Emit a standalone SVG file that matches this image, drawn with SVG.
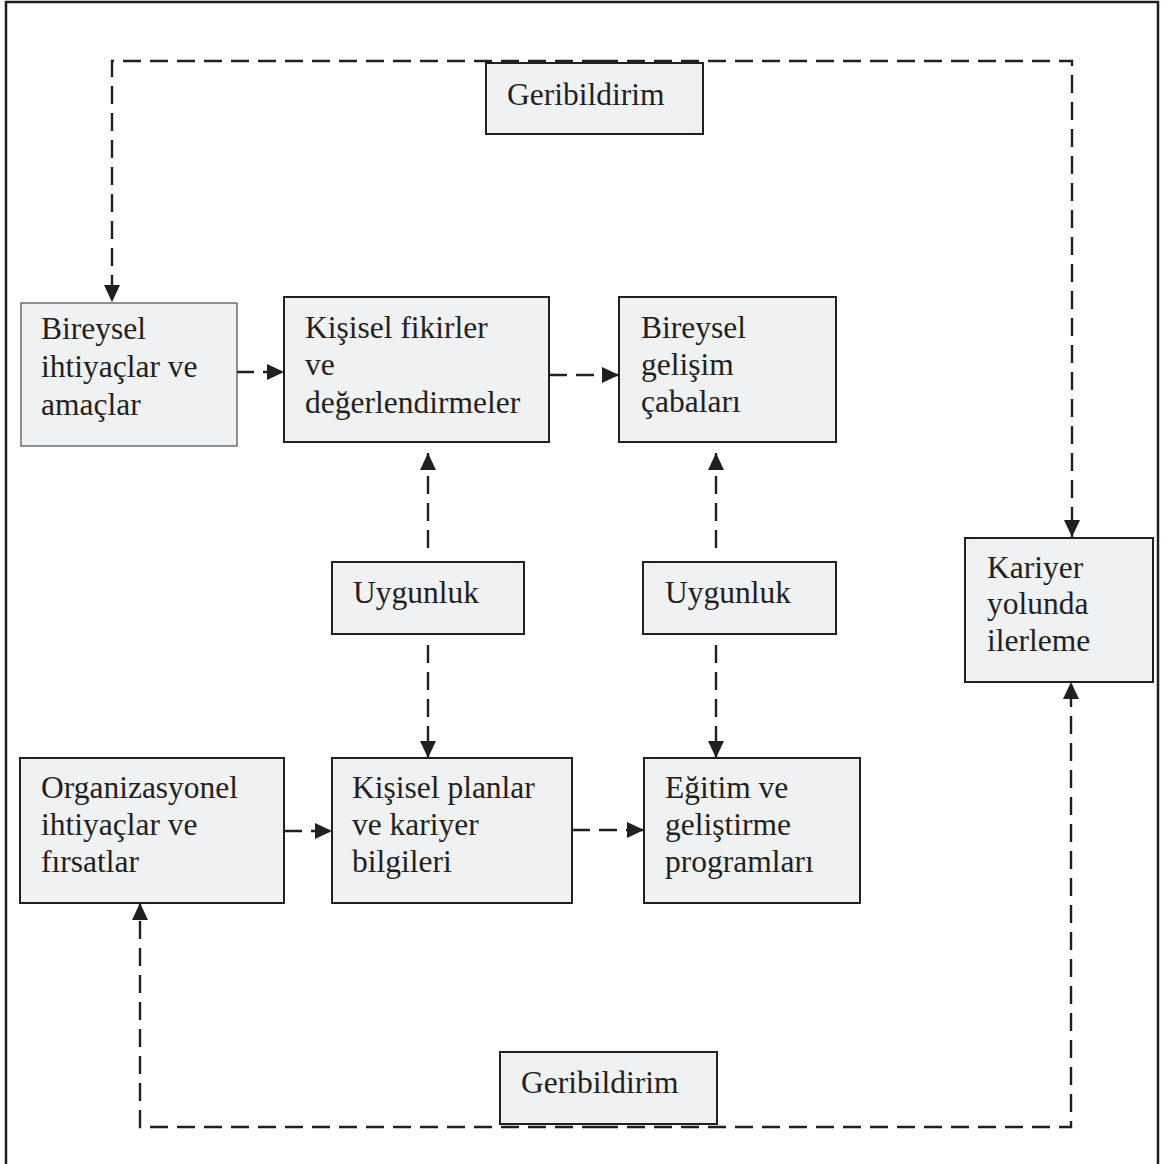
<svg xmlns="http://www.w3.org/2000/svg" width="1163" height="1164" viewBox="0 0 1163 1164">
  <style>
    .frame { fill: #ffffff; stroke: #231f20; stroke-width: 2.5; }
    .box { fill: #f0f1f3; stroke: #231f20; stroke-width: 2; }
    .box-light { fill: #f0f1f3; stroke: #4a4a4a; stroke-width: 1.2; }
    .label { font-family: "Liberation Serif", "Times New Roman", serif; font-size: 31.5px; fill: #231f20; }
    .link { fill: none; stroke: #231f20; stroke-width: 2.4; stroke-dasharray: 18 9; }
    .arrow { marker-end: url(#head); }
  </style>
  <defs>
    <marker id="head" markerUnits="userSpaceOnUse" markerWidth="17" markerHeight="16" refX="17" refY="8" orient="auto">
      <path d="M0,0 L17,8 L0,16 z" fill="#231f20"/>
    </marker>
  </defs>

  <!-- outer frame -->
  <rect class="frame" x="6" y="2" width="1152" height="1172"/>

  <!-- connectors -->
  <g id="connectors">
    <!-- upper feedback loop -->
    <path class="link arrow" d="M600,61 H112 V302"/>
    <path class="link arrow" d="M600,61 H1072 V537"/>
    <!-- lower feedback loop -->
    <path class="link arrow" d="M600,1127 H140 V903"/>
    <path class="link arrow" d="M600,1127 H1071 V682"/>
    <!-- top row flow -->
    <path class="link arrow" d="M236,372 H284"/>
    <path class="link arrow" d="M549,375 H619"/>
    <!-- bottom row flow -->
    <path class="link arrow" d="M284,831 H332"/>
    <path class="link arrow" d="M572,830 H644"/>
    <!-- Uygunluk links -->
    <path class="link arrow" d="M428,548 V453"/>
    <path class="link arrow" d="M716,548 V453"/>
    <path class="link arrow" d="M428,645 V758"/>
    <path class="link arrow" d="M716,645 V758"/>
  </g>

  <g id="geribildirim-top">
    <rect class="box" x="486" y="63" width="217" height="71"/>
    <text class="label" x="507" y="105">Geribildirim</text>
  </g>

  <g id="bireysel-ihtiyaclar">
    <rect class="box-light" x="21" y="303" width="216" height="143"/>
    <text class="label" x="41" y="339">Bireysel</text>
    <text class="label" x="41" y="377">ihtiyaçlar ve</text>
    <text class="label" x="41" y="415">amaçlar</text>
  </g>

  <g id="kisisel-fikirler">
    <rect class="box" x="284" y="297" width="265" height="145"/>
    <text class="label" x="305" y="338">Kişisel fikirler</text>
    <text class="label" x="305" y="375">ve</text>
    <text class="label" x="305" y="413">değerlendirmeler</text>
  </g>

  <g id="bireysel-gelisim">
    <rect class="box" x="619" y="297" width="217" height="145"/>
    <text class="label" x="641" y="338">Bireysel</text>
    <text class="label" x="641" y="375">gelişim</text>
    <text class="label" x="641" y="412">çabaları</text>
  </g>

  <g id="uygunluk-1">
    <rect class="box" x="332" y="562" width="192" height="72"/>
    <text class="label" x="353" y="603">Uygunluk</text>
  </g>

  <g id="uygunluk-2">
    <rect class="box" x="643" y="562" width="193" height="72"/>
    <text class="label" x="665" y="603">Uygunluk</text>
  </g>

  <g id="kariyer-yolunda">
    <rect class="box" x="965" y="538" width="188" height="144"/>
    <text class="label" x="987" y="578">Kariyer</text>
    <text class="label" x="987" y="614">yolunda</text>
    <text class="label" x="987" y="651">ilerleme</text>
  </g>

  <g id="organizasyonel">
    <rect class="box" x="20" y="758" width="264" height="145"/>
    <text class="label" x="41" y="798">Organizasyonel</text>
    <text class="label" x="41" y="835">ihtiyaçlar ve</text>
    <text class="label" x="41" y="872">fırsatlar</text>
  </g>

  <g id="kisisel-planlar">
    <rect class="box" x="332" y="758" width="240" height="145"/>
    <text class="label" x="352" y="798">Kişisel planlar</text>
    <text class="label" x="352" y="835">ve kariyer</text>
    <text class="label" x="352" y="872">bilgileri</text>
  </g>

  <g id="egitim">
    <rect class="box" x="644" y="758" width="216" height="145"/>
    <text class="label" x="665" y="798">Eğitim ve</text>
    <text class="label" x="665" y="835">geliştirme</text>
    <text class="label" x="665" y="872">programları</text>
  </g>

  <g id="geribildirim-bottom">
    <rect class="box" x="500" y="1052" width="217" height="72"/>
    <text class="label" x="521" y="1093">Geribildirim</text>
  </g>
</svg>
